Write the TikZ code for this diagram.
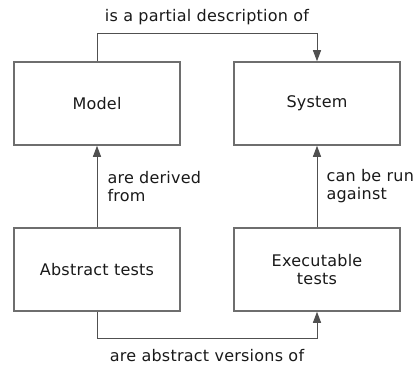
\documentclass[tikz,border=0pt]{standalone}
\usepackage{fontspec}
\setmainfont{DejaVu Sans}[LetterSpace=1.5]
\usepackage{xcolor}
\definecolor{grisCaja}{RGB}{110,110,110}
\definecolor{grisLinea}{RGB}{80,80,80}
\definecolor{grisTexto}{RGB}{25,25,25}
\usepackage{tikz}
\usetikzlibrary{arrows.meta,positioning}
\tikzstyle{box}   =[rectangle, draw=grisCaja, line width=1.5pt,
                    minimum width=166pt, minimum height=83pt,
                    inner sep=0pt, align=center, text=grisTexto]
\tikzstyle{edge}  =[->, >={Triangle[length=11pt,width=8pt]},
                    draw=grisLinea, line width=1pt]
\tikzstyle{rel}   =[text=grisTexto, inner sep=0pt, align=left]

\begin{document}
\begin{tikzpicture}[x=1pt,y=1pt,font=\fontsize{16}{18}\selectfont]
    \useasboundingbox (0,0) rectangle (415,365);

    \draw (97,261.5) node (model) [box] {Model};
    \draw (317,261.5) node (system) [box] {System};
    \draw (97,95.5) node (abstract) [box] {Abstract tests};
    \draw (317,95.5) node (exec) [box] {Executable\\tests};

    \draw [edge] (model.north) -- ++(0,28)
        -| node[rel, pos=0.25, above=8pt] {is a partial description of} (system.north);
    \draw [edge] (abstract.south) -- ++(0,-27)
        -| node[rel, pos=0.25, below=10pt] {are abstract versions of} (exec.south);
    \draw [edge] (abstract) -- node[rel, right=10pt] {are derived\\from} (model);
    \draw [edge] (exec) -- node[rel, right=9pt] {can be run\\against} (system);

\end{tikzpicture}
\end{document}
